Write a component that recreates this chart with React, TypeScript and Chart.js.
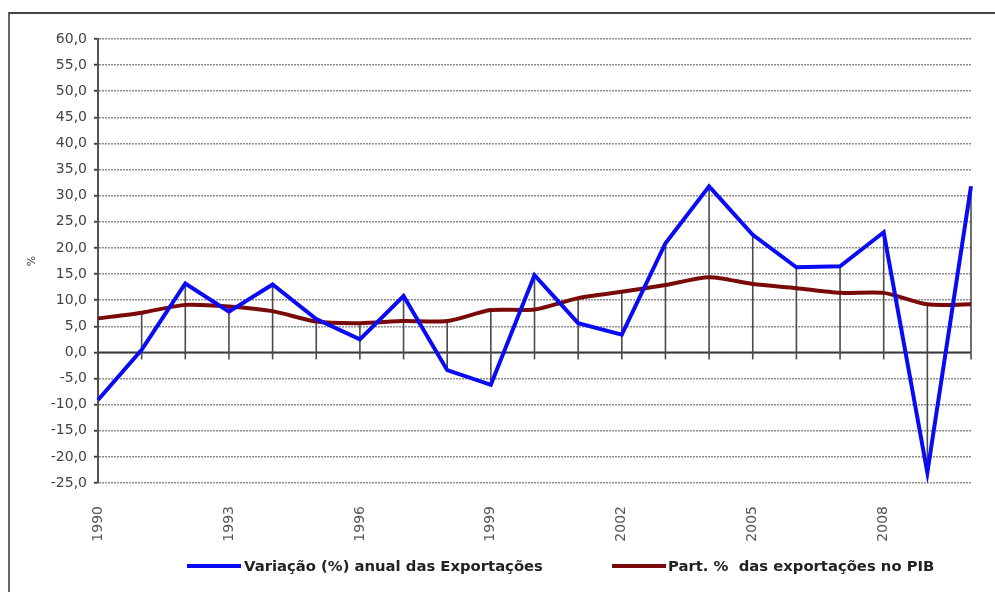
import React, { useEffect, useRef } from "react";
import { Chart, registerables } from "chart.js";

Chart.register(...registerables);

const years = [
  "1990", "1991", "1992", "1993", "1994", "1995", "1996", "1997", "1998", "1999",
  "2000", "2001", "2002", "2003", "2004", "2005", "2006", "2007", "2008", "2009", "2010",
];
const exportGrowth = [
  -9.1, 0.5, 13.2, 7.8, 13.0, 6.4, 2.5, 10.8, -3.4, -6.2,
  14.8, 5.6, 3.4, 20.9, 31.8, 22.5, 16.3, 16.5, 23.0, -23.0, 31.8,
];
const exportShare = [
  6.5, 7.6, 9.1, 8.8, 7.9, 5.9, 5.6, 6.0, 6.0, 8.1,
  8.2, 10.4, 11.6, 12.9, 14.4, 13.1, 12.3, 11.4, 11.4, 9.2, 9.2,
];
const shownYears = ["1990", "1993", "1996", "1999", "2002", "2005", "2008"];
const seriesNames = ["Variação (%) anual das Exportações", "Part. %  das exportações no PIB"];
const seriesColors = ["#0a0af5", "#7a0a0a"];
const yMin = -25;
const yMax = 60;
const yStep = 5;

const dropLinePlugin = {
  id: "dropLines",
  beforeDatasetsDraw(chart: any) {
    const { ctx, chartArea, scales } = chart;
    const x = scales.x;
    const y = scales.y;
    const y0 = y.getPixelForValue(0);
    ctx.save();
    ctx.strokeStyle = "#3a3a3a";
    ctx.lineWidth = 2;
    ctx.beginPath();
    ctx.moveTo(chartArea.left, y0);
    ctx.lineTo(chartArea.right, y0);
    ctx.stroke();
    ctx.strokeStyle = "#4a4a4a";
    ctx.lineWidth = 1.6;
    years.forEach((_, i) => {
      const vals = chart.data.datasets.map((d: any) => d.data[i] as number);
      const top = Math.max(0, ...vals);
      const bot = Math.min(0, ...vals);
      const px = x.getPixelForValue(i);
      ctx.beginPath();
      ctx.moveTo(px, y.getPixelForValue(top));
      ctx.lineTo(px, Math.max(y.getPixelForValue(bot), y0 + 7));
      ctx.stroke();
    });
    ctx.restore();
  },
};

export default function App() {
  const ref = useRef<HTMLCanvasElement | null>(null);

  useEffect(() => {
    if (!ref.current) return;
    const chart = new Chart(ref.current, {
      type: "line",
      data: {
        labels: years,
        datasets: [
          {
            label: seriesNames[0],
            data: exportGrowth,
            borderColor: seriesColors[0],
            backgroundColor: seriesColors[0],
            borderWidth: 4,
            pointRadius: 0,
            tension: 0,
          },
          {
            label: seriesNames[1],
            data: exportShare,
            borderColor: seriesColors[1],
            backgroundColor: seriesColors[1],
            borderWidth: 4,
            pointRadius: 0,
            tension: 0.25,
          },
        ],
      },
      options: {
        animation: false,
        responsive: false,
        maintainAspectRatio: false,
        layout: { padding: { left: 20, top: 39, right: 24, bottom: 0 } },
        plugins: { legend: { display: false }, tooltip: { enabled: false } },
        scales: {
          x: {
            offset: false,
            grid: { display: false },
            border: { display: false },
            ticks: {
              autoSkip: false,
              minRotation: 90,
              maxRotation: 90,
              padding: 15,
              color: "#555",
              font: { family: "DejaVu Sans", size: 14 },
              callback: (_v: any, i: number) => (shownYears.includes(years[i]) ? years[i] : ""),
            },
            afterFit: (s: any) => {
              s.height = 109;
              s.paddingLeft = 0;
              s.paddingRight = 0;
            },
          },
          y: {
            min: yMin,
            max: yMax,
            ticks: {
              stepSize: yStep,
              padding: 7,
              color: "#444",
              font: { family: "DejaVu Sans", size: 14 },
              callback: (v: any) => Number(v).toFixed(1).replace(".", ","),
            },
            grid: {
              color: "#8c8c8c",
              lineWidth: 1.5,
              tickLength: 4,
              tickColor: "#444",
              tickWidth: 2,
            },
            border: { display: true, color: "#555", width: 2, dash: [2, 1] },
            title: {
              display: true,
              text: "%",
              color: "#444",
              font: { family: "DejaVu Sans", size: 11 },
              padding: { top: 6, bottom: 0 },
            },
            afterFit: (s: any) => {
              s.width = 78;
            },
          },
        },
      },
      plugins: [dropLinePlugin],
    });
    return () => chart.destroy();
  }, []);

  const legendText: React.CSSProperties = {
    position: "fixed",
    top: 556,
    fontFamily: "DejaVu Sans",
    fontWeight: "bold",
    fontSize: 14.8,
    color: "#222",
    whiteSpace: "pre",
    lineHeight: "20px",
  };

  return (
    <div>
      <canvas
        ref={ref}
        width={995}
        height={592}
        style={{ position: "fixed", left: 0, top: 0, width: 995, height: 592, background: "#fff" }}
      />
      <div
        style={{
          position: "fixed",
          left: 8,
          top: 12,
          width: 987,
          height: 580,
          borderTop: "2px solid #444",
          borderLeft: "2px solid #666",
          boxSizing: "border-box",
          pointerEvents: "none",
        }}
      />
      <div style={{ position: "fixed", left: 187, top: 564, width: 54, height: 4, background: seriesColors[0] }} />
      <div style={{ ...legendText, left: 244 }}>{seriesNames[0]}</div>
      <div style={{ position: "fixed", left: 612, top: 564, width: 54, height: 4, background: seriesColors[1] }} />
      <div style={{ ...legendText, left: 668 }}>{seriesNames[1]}</div>
    </div>
  );
}
